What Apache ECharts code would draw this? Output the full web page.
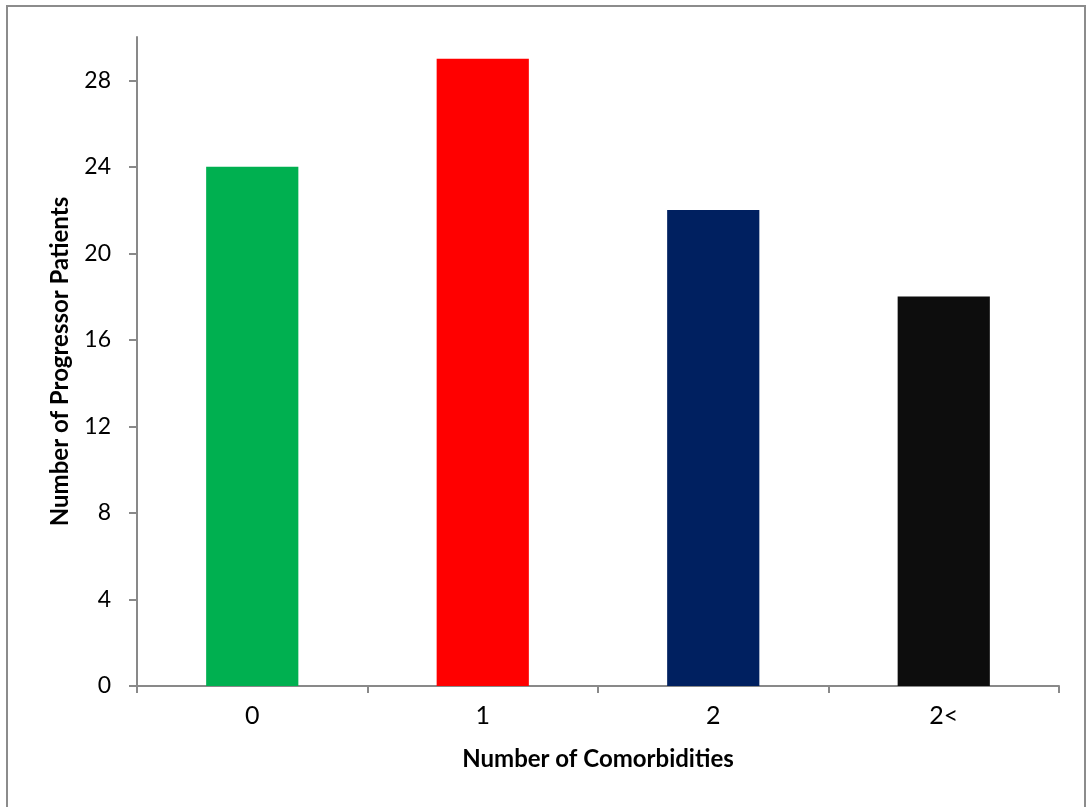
<!DOCTYPE html>
<html>
<head>
<meta charset="utf-8">
<script src="https://cdn.jsdelivr.net/npm/echarts@6/dist/echarts.min.js"></script>
<style>
html,body{margin:0;padding:0;background:#fff;}
#chart{width:1086px;height:807px;}
</style>
</head>
<body>
<div id="chart"></div>
<script>
const categories = ['0', '1', '2', '2<'];
const patientCounts = [24, 29, 22, 18];
const barColors = ['#00B050', '#FF0000', '#002060', '#0D0D0D'];
const yTicks = [0, 4, 8, 12, 16, 20, 24, 28];

const chart = echarts.init(document.getElementById('chart'));
const font = 'Lato, "Open Sans", sans-serif';
chart.setOption({
  animation: false,
  backgroundColor: '#fff',
  graphic: [{
    type: 'rect',
    shape: { x: 7, y: 6, width: 1078, height: 820 },
    style: { fill: 'none', stroke: '#8c8c8c', lineWidth: 2 },
    silent: true
  }],
  grid: { left: 137, right: 27, top: 37, bottom: 121, containLabel: false },
  xAxis: {
    type: 'category',
    data: categories,
    boundaryGap: true,
    axisLine: { lineStyle: { color: '#898989', width: 2 } },
    axisTick: { show: true, length: 7, lineStyle: { color: '#898989', width: 2 } },
    axisLabel: { color: '#000', fontSize: 25, fontFamily: font, margin: 17 },
    name: 'Number of Comorbidities',
    nameLocation: 'middle',
    nameGap: 61,
    nameTextStyle: { color: '#000', fontSize: 24, fontWeight: 'bold', fontFamily: font }
  },
  yAxis: {
    type: 'value',
    min: 0,
    max: 30,
    interval: 4,
    splitLine: { show: false },
    axisLine: { show: true, lineStyle: { color: '#898989', width: 2 } },
    axisTick: { show: true, length: 8, lineStyle: { color: '#898989', width: 2 }, customValues: yTicks },
    axisLabel: { color: '#000', fontSize: 23, fontFamily: font, margin: 26, customValues: yTicks },
    name: 'Number of Progressor Patients',
    nameLocation: 'middle',
    nameGap: 65,
    nameRotate: 90,
    nameTextStyle: { color: '#000', fontSize: 24, fontWeight: 'bold', fontFamily: font }
  },
  series: [{
    type: 'bar',
    barWidth: '40%',
    data: patientCounts.map((v, i) => ({ value: v, itemStyle: { color: barColors[i] } }))
  }]
});
</script>
</body>
</html>
